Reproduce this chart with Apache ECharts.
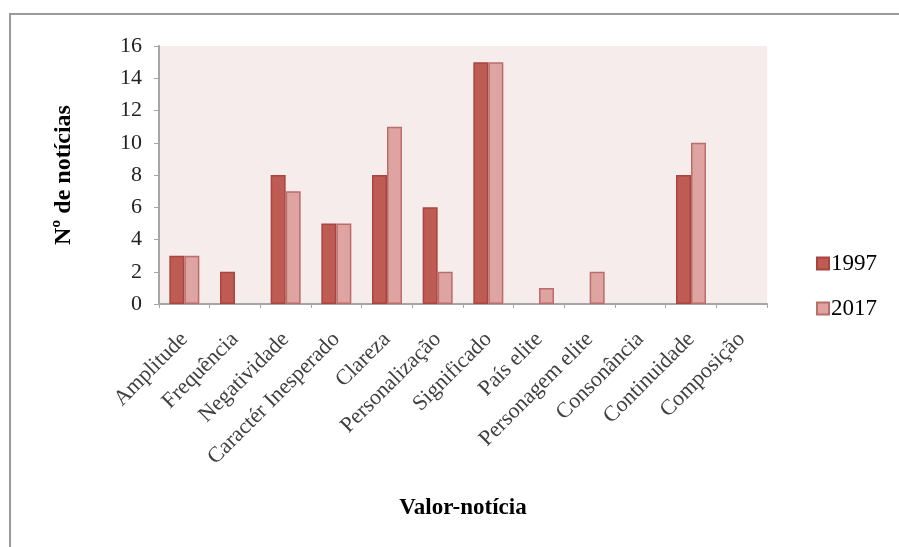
<!DOCTYPE html>
<html>
<head>
<meta charset="utf-8">
<script src="https://cdn.jsdelivr.net/npm/echarts@6/dist/echarts.min.js"></script>
<style>
  html, body { margin: 0; padding: 0; background: #fff; }
  #frame {
    position: absolute; left: 9px; top: 13px; width: 890px; height: 534px;
    border-left: 2px solid #9a9a9a; border-top: 2px solid #9a9a9a;
  }
  #chart { position: absolute; left: 0; top: 0; width: 899px; height: 547px; }
</style>
</head>
<body>
<div id="frame"></div>
<div id="chart"></div>
<script>
var categories = [
  "Amplitude", "Frequência", "Negatividade", "Caractér Inesperado", "Clareza",
  "Personalização", "Significado", "País elite", "Personagem elite",
  "Consonância", "Continuidade", "Composição"
];
var seriesNames = ["1997", "2017"];
var values1997 = [3, 2, 8, 5, 8, 6, 15, 0, 0, 0, 8, 0];
var values2017 = [3, 0, 7, 5, 11, 2, 15, 1, 2, 0, 10, 0];
var yTicks = { min: 0, max: 16, interval: 2 };

// empty cells in the source sheet: no bar drawn at all
function noZero(arr) {
  return arr.map(function (v) { return v === 0 ? "-" : v; });
}

var serif = "Liberation Serif";
var chart = echarts.init(document.getElementById("chart"));

chart.setOption({
  animation: false,
  legend: {
    orient: "vertical",
    left: 811,
    top: 247,
    itemWidth: 12,
    itemHeight: 12,
    itemGap: 22,
    icon: "rect",
    data: seriesNames,
    textStyle: { fontFamily: serif, fontSize: 23, color: "#000", padding: [4, 0, 0, -3] }
  },
  grid: {
    left: 159,
    right: 132,
    top: 46,
    bottom: 243,
    show: true,
    backgroundColor: "#F5ECEB",
    borderWidth: 0
  },
  xAxis: {
    type: "category",
    data: categories,
    name: "Valor-notícia",
    nameLocation: "middle",
    nameGap: 193,
    nameTextStyle: { fontFamily: serif, fontSize: 23, fontWeight: "bold", color: "#000" },
    axisLine: { lineStyle: { color: "#a6a6a6", width: 2 } },
    axisTick: { show: true, length: 4, lineStyle: { color: "#a6a6a6" } },
    axisLabel: {
      rotate: 45,
      interval: 0,
      margin: 32,
      fontFamily: serif,
      fontSize: 22,
      color: "#404040"
    }
  },
  yAxis: {
    type: "value",
    min: yTicks.min,
    max: yTicks.max,
    interval: yTicks.interval,
    name: "Nº de notícias",
    nameLocation: "middle",
    nameGap: 83,
    nameTextStyle: { fontFamily: serif, fontSize: 24, fontWeight: "bold", color: "#000" },
    axisLine: { show: true, lineStyle: { color: "#a6a6a6", width: 2 } },
    axisTick: { show: true, length: 5, lineStyle: { color: "#a6a6a6" } },
    splitLine: { show: false },
    axisLabel: { fontFamily: serif, fontSize: 22, color: "#222", margin: 17 }
  },
  series: [
    {
      name: seriesNames[0],
      type: "bar",
      data: noZero(values1997),
      barWidth: 15,
      barGap: "0%",
      itemStyle: { color: "#BE5B53", borderColor: "#A9443F", borderWidth: 1.5 }
    },
    {
      name: seriesNames[1],
      type: "bar",
      data: noZero(values2017),
      barWidth: 15,
      itemStyle: { color: "#DDA4A2", borderColor: "#BC6D69", borderWidth: 1.5 }
    }
  ]
});
</script>
</body>
</html>
